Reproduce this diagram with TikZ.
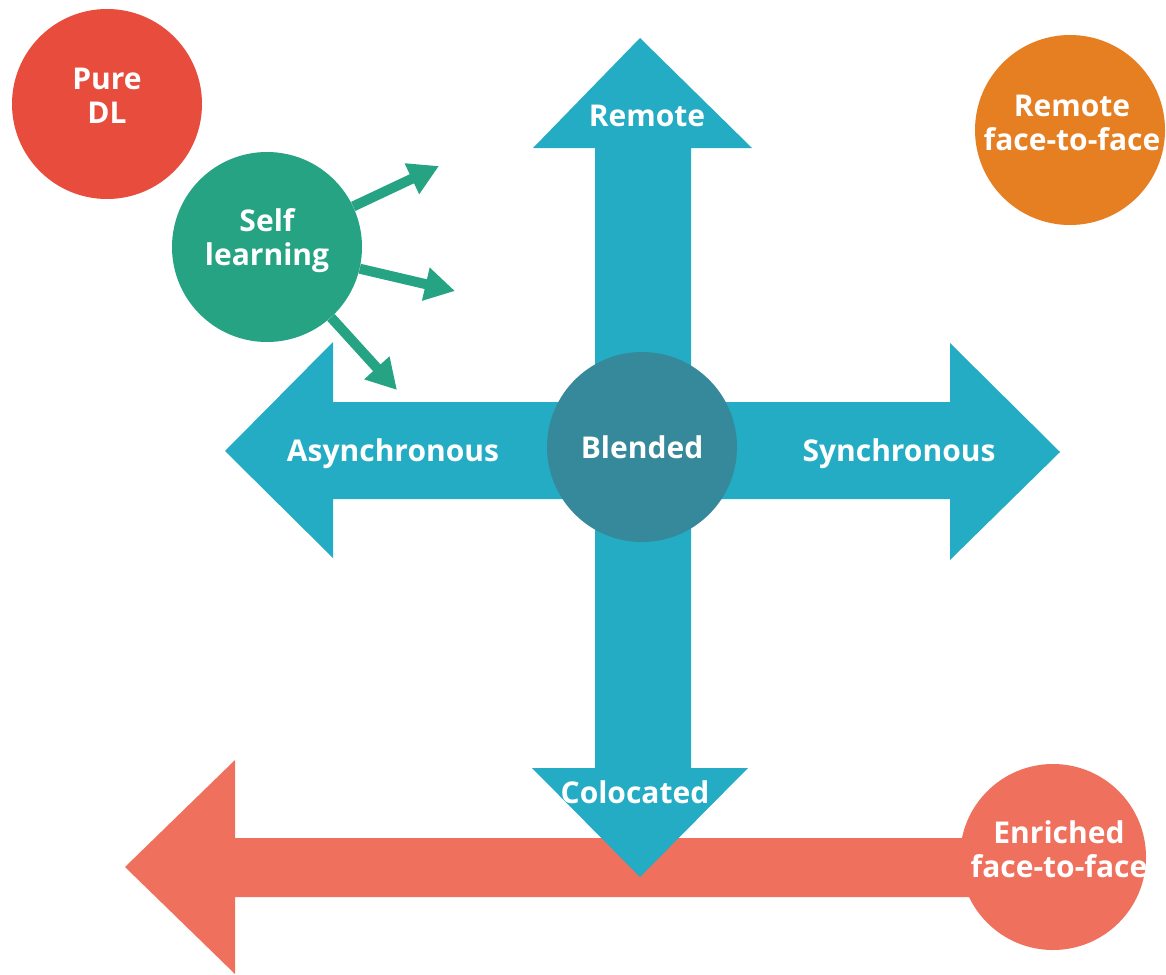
\documentclass[tikz,border=0pt]{standalone}
\usepackage{fontspec}
\setsansfont{Open Sans}
\usetikzlibrary{arrows.meta}
\definecolor{dlred}{HTML}{E84C3D}
\definecolor{selfgreen}{HTML}{26A383}
\definecolor{remorange}{HTML}{E67E22}
\definecolor{axisblue}{HTML}{23ACC4}
\definecolor{blendblue}{HTML}{36889B}
\definecolor{salmon}{HTML}{F0705E}
\tikzset{
  lbl/.style={text=white, font=\sffamily\bfseries\fontsize{30}{34}\selectfont, align=center, inner sep=0pt},
  ball/.style={circle, minimum size=190pt, inner sep=0pt},
  greenarrow/.style={draw=selfgreen, line width=10pt,
    -{Triangle[length=30pt, width=32pt]}},
}
\begin{document}
\begin{tikzpicture}[x=1pt, y=-1pt]
\useasboundingbox (0,0) rectangle (1166,974);

% salmon arrow pointing left
\fill[salmon] (125,867) -- (235,760) -- (235,838) -- (1000,838) -- (1000,897)
  -- (235,897) -- (235,974) -- cycle;

% blue cross: vertical double arrow
\fill[axisblue] (640,38) -- (752,148) -- (691,148) -- (691,768) -- (748,768)
  -- (640,877) -- (532,768) -- (595,768) -- (595,148) -- (533,148) -- cycle;
% horizontal double arrow
\fill[axisblue] (225,451) -- (333,342) -- (333,402) -- (950,402) -- (950,343)
  -- (1060,452) -- (950,560) -- (950,499) -- (333,499) -- (333,558) -- cycle;

% circles
\node[ball, fill=dlred] (pure) at (107,104) {};
\node[ball, fill=selfgreen] (self) at (267,247) {};
\node[ball, fill=remorange] (rftf) at (1070,130) {};
\node[ball, fill=blendblue] (blend) at (642,447) {};
\node[ball, fill=salmon, minimum size=186pt] (enr) at (1053,857) {};

% circle captions
\node[lbl] (pureT) at (107,96) {Pure\\DL};
\node[lbl] (selfT) at (267,241) {Self\\learning};
\node[lbl] (rftfT) at (1072,123) {Remote\\face-to-face};
\node[lbl] (enrT) at (1059,849) {Enriched\\face-to-face};

% axis labels
\node[lbl] (remote) at (647,116) {Remote};
\node[lbl] (async) at (393,454) {Asynchronous};
\node[lbl] (blended) at (642,447) {Blended};
\node[lbl] (sync) at (899,454) {Synchronous};
\node[lbl] (coloc) at (635,792) {Colocated};

% arrows leaving the self learning circle
\coordinate (t1) at (439,166);
\coordinate (t2) at (455,291);
\coordinate (t3) at (397,390);
\draw[greenarrow] (self) -- (t1);
\draw[greenarrow] (self) -- (t2);
\draw[greenarrow] (self) -- (t3);
\end{tikzpicture}
\end{document}
